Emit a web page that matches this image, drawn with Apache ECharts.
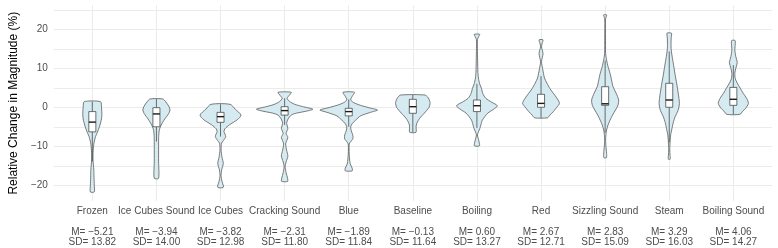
<!DOCTYPE html>
<html>
<head>
<meta charset="utf-8">
<script src="https://cdn.jsdelivr.net/npm/echarts@6/dist/echarts.min.js"></script>
<style>
html,body{margin:0;padding:0;background:#fff;}
#chart{width:778px;height:248px;}
</style>
</head>
<body>
<div id="chart"></div>
<script>
// ---- data ----
const categories = ['Frozen','Ice Cubes Sound','Ice Cubes','Cracking Sound','Blue','Baseline','Boiling','Red','Sizzling Sound','Steam','Boiling Sound'];
const means = [-5.21,-3.94,-3.82,-2.31,-1.89,-0.13,0.60,2.67,2.83,3.29,4.06];
const sds = [13.82,14.00,12.98,11.80,11.84,11.64,13.27,12.71,15.09,16.03,14.27];
const q1 = [-6.3,-5.0,-3.85,-2.0,-2.2,-1.54,-1.1,0.0,0.51,0.0,0.5];
const medians = [-3.8,-1.7,-2.4,-0.85,-1.1,0.15,0.4,1.0,0.9,1.87,2.05];
const q3 = [-1.1,-0.1,-1.3,0.15,-0.26,2.05,1.87,3.33,5.28,6.15,5.1];
const whiskerLow = [-13.9,-8.8,-7.5,-4.5,-5.0,-6.4,-5.3,-2.7,-6.5,-9.0,-1.8];
const whiskerHigh = [1.44,2.13,0.77,2.3,2.0,3.15,6.0,8.0,12.0,14.3,10.8];
const yTicks = [-20,-10,0,10,20];
const yGrid = [-20,-15,-10,-5,0,5,10,15,20,25];

// violin density profiles: [value, density] from top to bottom
const densFrozen = [[1.44,8.3],[0,9.3],[-1.5,9.7],[-3,9.3],[-5,7.2],[-6.5,5],[-7.5,3.3],[-9,1.8],[-10.1,1.2],[-12,0.7],[-13.5,0.7],[-16,1.5],[-18,1.7],[-20,2],[-21.7,2]];
const densIceCubesSound = [[2.13,6.5],[1.4,9.5],[0.3,12.5],[-0.7,13.8],[-1.8,12],[-2.8,9],[-4,6],[-5,4],[-6,2.8],[-7.5,2.3],[-10,2.2],[-14,2.2],[-18.2,2.2]];
const densIceCubes = [[0.77,9.7],[-0.5,15],[-2,20.8],[-3.2,17],[-4.5,9],[-5.5,4.5],[-6.2,3.5],[-7.5,5.3],[-8.5,3],[-9.2,1],[-11,0.6],[-12.8,1.5],[-14.4,2.8],[-16,1.2],[-17.4,0.5],[-19,1.5],[-20.2,3],[-20.6,2.5]];
const densCrackingSound = [[3.85,6.7],[3,4.5],[2.3,2.5],[1.5,5],[0.8,10],[0.2,18],[-0.5,28.7],[-1.0,22],[-1.5,12],[-2,6.7],[-3,3.5],[-4.1,2],[-5.4,3.3],[-6.7,1.5],[-7.7,3.3],[-8.6,2],[-9.4,1],[-11,2],[-12.5,3.3],[-14,1.5],[-15.2,0.5],[-16.8,1.5],[-18.2,3],[-19,3]];
const densBlue = [[3.85,5.8],[2.8,3.5],[1.9,2],[1.2,5],[0.5,12],[-0.2,22],[-0.7,29.3],[-1.3,22],[-2.2,12],[-3.3,7],[-4.2,3.5],[-5,2],[-6,2.5],[-7,4],[-8,4.3],[-8.8,2],[-9.4,0.5],[-12,0.5],[-14.5,1.5],[-15.6,3.5],[-16.3,3.5]];
const densBaseline = [[3.15,12.3],[2.5,15.5],[1.5,17.3],[1,17.5],[0,16.5],[-1.5,11.7],[-2.8,7],[-4.1,4],[-5,3.3],[-6.4,3.2]];
const densBoiling = [[18.7,2.8],[18,1.5],[17.3,0.5],[15,0.5],[12,0.7],[9,1],[7.5,1.5],[6,2.8],[4.9,4.5],[3.5,6],[2.3,9],[1.3,15],[0.4,20.8],[-0.5,17],[-1.5,11],[-3.3,5.5],[-4.5,4],[-5.4,3],[-6.3,1.5],[-7.1,0.5],[-8.2,1.5],[-9.2,2.5],[-9.9,2.5]];
const densRed = [[17.3,2],[16.5,1.2],[15.5,0.5],[13.8,2],[11.7,0.5],[10,1.5],[8.7,2.5],[7.5,3.5],[6.2,6],[4.8,9],[3.6,12.5],[2.2,16.5],[1,18.7],[0,16],[-1.1,12.5],[-2,9],[-2.7,6.5]];
const densSizzlingSound = [[23.7,1.5],[23,0.8],[22.4,0.3],[18,0.4],[13.8,0.5],[12.1,1.5],[10.4,3],[8.7,5],[7,6.5],[5.3,8],[3.7,11],[1.9,13.7],[0.5,13],[-0.7,10.5],[-2,7.5],[-3.3,5],[-4.5,3],[-5.8,1.5],[-7,0.8],[-8.4,0.5],[-10,0.8],[-11.8,1.5],[-12.9,1.3]];
const densSteam = [[19,2.3],[18,2],[16.5,1.8],[14.7,2],[12.5,3.3],[10.4,4.7],[8.3,6],[6.2,7.5],[3.5,9.2],[1,10.3],[-0.8,9],[-2.4,6],[-4,4],[-5.8,2.5],[-7,1.5],[-8.4,1],[-10.9,0.5],[-12.3,0.8],[-13.3,1]];
const densBoilingSound = [[17.1,1.8],[15.5,1.7],[14.7,1.5],[13,2.5],[11.5,4],[10,2.5],[8.7,1.5],[7.3,2],[6.2,4],[4.9,7],[3.6,10],[2.3,13.5],[1,15.3],[-0.26,12.5],[-1,9.5],[-1.8,6.7]];

const violins = [densFrozen,densIceCubesSound,densIceCubes,densCrackingSound,densBlue,densBaseline,densBoiling,densRed,densSizzlingSound,densSteam,densBoilingSound];

// ---- chart ----
const maxDens = Math.max(...violins.map(v => Math.max(...v.map(p => p[1]))));
const violinHalf = 0.45;
const boxHalf = 0.055;
const FONT = 'Liberation Sans, Arial, sans-serif';
const positions = categories.map((c,i)=>i+1);

function fmt(v){ return (v < 0 ? '\u2212' : '') + Math.abs(v).toFixed(2); }

function xAxisFor(values, showSplit){
  return {
    type: 'value', min: 0.4, max: 11.6, position: 'bottom', offset: 0,
    axisLine: {show:false},
    axisTick: {show:false, customValues: showSplit ? positions : values},
    splitLine: {show: showSplit, lineStyle:{color:'#ebebeb', width:1}},
    axisLabel: {
      customValues: values,
      hideOverlap: false,
      margin: 4,
      formatter: function(v){
        const i = Math.round(v) - 1;
        return '{n|' + categories[i] + '}\n{s| }\n{m|M= ' + fmt(means[i]) + '}\n{m|SD= ' + fmt(sds[i]) + '}';
      },
      rich: {
        n: {fontSize: 10, color:'#4d4d4d', lineHeight: 12, fontFamily: FONT},
        s: {fontSize: 5, lineHeight: 10},
        m: {fontSize: 10, color:'#4d4d4d', lineHeight: 10, fontFamily: FONT}
      }
    }
  };
}

const chart = echarts.init(document.getElementById('chart'), null, {renderer:'canvas'});

const option = {
  animation: false,
  grid: {left: 41.9, top: 5.5, width: 729.9, height: 195.4},
  xAxis: [
    xAxisFor(positions.filter(p => p % 2 === 1), true),
    xAxisFor(positions.filter(p => p % 2 === 0), false)
  ],
  yAxis: {
    type: 'value', min: -24, max: 26.1,
    name: 'Relative Change in Magnitude (%)',
    nameLocation: 'middle', nameRotate: 90, nameGap: 31,
    nameTextStyle: {fontSize: 12, color:'#000', fontFamily: FONT},
    axisLine: {show:false},
    axisTick: {show:false, customValues: yGrid},
    splitLine: {show:true, lineStyle:{color:'#ebebeb', width:1}},
    axisLabel: {
      customValues: yTicks,
      margin: 6,
      fontSize: 10, color:'#4d4d4d', fontFamily: FONT,
      formatter: v => (v < 0 ? '\u2212' : '') + Math.abs(v)
    }
  },
  series: [{
    type: 'custom',
    xAxisIndex: 0,
    data: positions.map(p => [p]),
    encode: {x: 0},
    renderItem: function(params, api){
      const i = params.dataIndex;
      const x = i + 1;
      const prof = violins[i];
      const right = prof.map(p => api.coord([x + p[1]/maxDens*violinHalf, p[0]]));
      const left = prof.map(p => api.coord([x - p[1]/maxDens*violinHalf, p[0]])).reverse();
      const pts = right.concat(left);
      const b1 = api.coord([x - boxHalf, q3[i]]);
      const b2 = api.coord([x + boxHalf, q1[i]]);
      const c = api.coord([x, 0])[0];
      const yHi = api.coord([x, whiskerHigh[i]])[1];
      const yLo = api.coord([x, whiskerLow[i]])[1];
      const m1 = api.coord([x - boxHalf, medians[i]]);
      const m2 = api.coord([x + boxHalf, medians[i]]);
      return {
        type: 'group',
        children: [
          {type:'polygon', shape:{points: pts, smooth: 0.25}, style:{fill:'#d5ebf1', stroke:'#5a5a5a', lineWidth:0.8}},
          {type:'line', shape:{x1:c, y1:b1[1], x2:c, y2:yHi}, style:{stroke:'#333', lineWidth:0.7}},
          {type:'line', shape:{x1:c, y1:b2[1], x2:c, y2:yLo}, style:{stroke:'#333', lineWidth:0.7}},
          {type:'rect', shape:{x:b1[0], y:b1[1], width:b2[0]-b1[0], height:b2[1]-b1[1]}, style:{fill:'#fff', stroke:'#333', lineWidth:0.7}},
          {type:'line', shape:{x1:m1[0], y1:m1[1], x2:m2[0], y2:m2[1]}, style:{stroke:'#1a1a1a', lineWidth:1.4}}
        ]
      };
    }
  }]
};
chart.setOption(option);
</script>
</body>
</html>
